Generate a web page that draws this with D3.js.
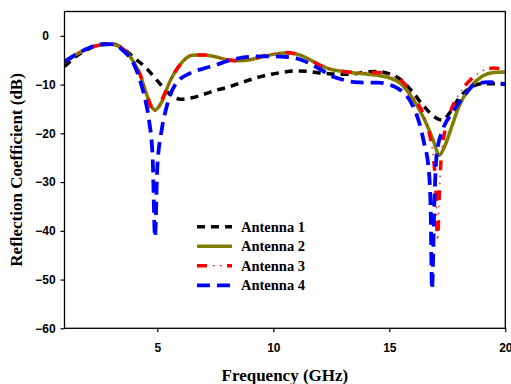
<!DOCTYPE html>
<html><head><meta charset="utf-8">
<script src="https://cdn.jsdelivr.net/npm/d3@7"></script>
<style>body{margin:0;background:#fff}svg{display:block}</style>
</head><body><svg id="c" width="511" height="384"></svg>
<script>
const xTicks = [5, 10, 15, 20];
const yTicks = [0, -10, -20, -30, -40, -50, -60];
const seriesNames = ["Antenna 1", "Antenna 2", "Antenna 3", "Antenna 4"];

const freq1 = [1,1.5,2,2.5,3,3.5,4,4.5,5,5.5,6,6.5,7,7.5,8,8.5,9,9.5,10,10.5,11,11.5,12,12.5,13,13.5,14,14.5,15,15.5,16,16.5,17,17.3,17.6,18,18.5,19,19.5,20];
const ant1  = [-6.3,-4.2,-2.8,-1.8,-1.6,-2.5,-4.5,-6.5,-9.2,-11.8,-13.0,-12.7,-12.0,-11.2,-10.6,-9.8,-9.0,-8.3,-7.8,-7.4,-7.2,-7.3,-7.6,-7.8,-7.9,-7.8,-7.4,-7.3,-7.8,-9.0,-11.5,-14.5,-16.8,-17.3,-15.8,-12.8,-10.6,-9.8,-9.8,-10.0];

const freq2 = [1,1.5,2,2.5,3,3.5,4,4.3,4.6,4.9,5.2,5.5,6,6.5,7,7.5,8,8.5,9,9.5,10,10.5,11,11.5,12,12.5,13,13.5,14,14.5,15,15.5,16,16.5,16.9,17.15,17.4,17.7,18,18.5,19,19.5,20];
const ant2  = [-5.4,-3.8,-2.6,-1.9,-1.7,-2.6,-5.5,-8.5,-12.8,-15.2,-13.5,-9.8,-5.8,-4.0,-3.9,-4.3,-4.9,-5.1,-4.9,-4.3,-3.8,-3.5,-3.7,-4.7,-6.0,-6.9,-7.3,-7.6,-7.8,-8.1,-8.6,-9.8,-12.8,-17.0,-21.5,-24.5,-22.5,-18.5,-14.5,-10.5,-8.3,-7.5,-7.4];

const freq3 = [1,1.5,2,2.5,3,3.5,4,4.3,4.6,4.85,5.15,5.5,6,6.5,7,7.5,8,8.5,9,9.5,10,10.5,11,11.5,12,12.5,13,13.5,14,14.5,15,15.5,16,16.5,16.75,16.9,17.0,17.08,17.16,17.25,17.4,17.6,18,18.5,19,19.5,20];
const ant3  = [-5.4,-3.8,-2.6,-1.9,-1.7,-2.6,-5.4,-8.4,-12.9,-15.6,-13.6,-9.8,-5.8,-4.0,-3.9,-4.3,-4.9,-5.1,-4.9,-4.2,-3.6,-3.4,-3.7,-4.7,-6.0,-6.9,-7.3,-7.5,-7.5,-7.5,-8.0,-9.0,-12.3,-16.5,-20.5,-25.0,-31.0,-42.0,-32.0,-24.0,-19.5,-16.0,-12.0,-9.0,-7.2,-6.6,-7.0];

const freq4 = [1,1.5,2,2.5,3,3.5,4,4.3,4.5,4.65,4.8,4.9,5.0,5.2,5.4,5.8,6.4,7,7.5,8,8.5,9,9.5,10,10.5,11,11.5,12,12.5,13,13.5,14,14.5,15,15.5,16,16.3,16.5,16.7,16.78,16.84,16.95,17.05,17.3,17.7,18.2,18.75,19.3,20];
const ant4  = [-5.3,-3.8,-2.6,-1.8,-1.7,-2.9,-5.9,-9.8,-13.5,-17.5,-25.0,-41.3,-27.0,-19.0,-14.6,-9.8,-7.7,-6.7,-6.0,-5.2,-4.6,-4.3,-4.2,-4.2,-4.3,-4.6,-5.5,-6.8,-8.2,-9.0,-9.5,-9.6,-9.6,-10.0,-11.2,-14.2,-18.0,-22.0,-27.5,-35.0,-52.0,-33.0,-24.0,-19.3,-15.9,-12.5,-9.8,-9.5,-9.9];

const svg = d3.select("#c");
const L = 64.5, R = 505.3, T = 11.5, B = 328.3;
const x = d3.scaleLinear().domain([1, 20]).range([L, R]);
const y = d3.scaleLinear().domain([-60, 5]).range([B, T]);

const tickFont = "'Liberation Sans', Arial, sans-serif";
const serif = "'Liberation Serif', 'Times New Roman', serif";

// axes
const gx = svg.append("g").attr("transform", `translate(0,${B})`)
  .call(d3.axisBottom(x).tickValues(xTicks).tickSize(4).tickPadding(11.5).tickFormat(d3.format("d")));
const gy = svg.append("g").attr("transform", `translate(${L},0)`)
  .call(d3.axisLeft(y).tickValues(yTicks).tickSize(4).tickFormat(d3.format("d")));
[gx, gy].forEach(g => {
  g.select(".domain").remove();
  g.selectAll(".tick line").attr("stroke", "#000").attr("stroke-width", 1.2);
  g.selectAll("text").attr("font-family", tickFont).attr("font-weight", "bold")
    .attr("font-size", 12).attr("fill", "#000");
});
gy.selectAll("text").attr("text-anchor", "middle").attr("x", -19);

const series = [
  {f: freq1, v: ant1, color: "#000000", dash: "8,6", w: 3.5},
  {f: freq2, v: ant2, color: "#808000", dash: null, w: 3.5},
  {f: freq3, v: ant3, color: "#ff0000", dash: "10,20", w: 3.5, dots: true},
  {f: freq4, v: ant4, color: "#0000ff", dash: "13,7", w: 3.8}
];

const clip = svg.append("clipPath").attr("id", "clp").append("rect")
  .attr("x", L).attr("y", T).attr("width", R - L).attr("height", B - T);

const line = d3.line().curve(d3.curveMonotoneX).x(d => x(d[0])).y(d => y(d[1]));
const plot = svg.append("g").attr("clip-path", "url(#clp)");
series.forEach(s => {
  const pts = s.f.map((f, i) => [f, s.v[i]]);
  plot.append("path").attr("d", line(pts)).attr("fill", "none")
    .attr("stroke", s.color).attr("stroke-width", s.w)
    .attr("stroke-dasharray", s.dash).attr("stroke-linejoin", "round");
  if (s.dots) {
    plot.append("path").attr("d", line(pts)).attr("fill", "none")
      .attr("stroke", s.color).attr("stroke-width", 1.3)
      .attr("stroke-dasharray", "0,16,1.5,5.5,1.5,5.5");
  }
});

// frame
svg.append("rect").attr("x", L).attr("y", T).attr("width", R - L).attr("height", B - T)
  .attr("fill", "none").attr("stroke", "#000").attr("stroke-width", 1.3);

// legend
const legY = [226.7, 246.2, 265.7, 285.3];
const lg = svg.append("g");
series.forEach((s, i) => {
  lg.append("line").attr("x1", 197).attr("x2", 232).attr("y1", legY[i]).attr("y2", legY[i])
    .attr("stroke", s.color).attr("stroke-width", s.w).attr("stroke-dasharray", s.dash);
  if (s.dots) {
    lg.append("line").attr("x1", 197).attr("x2", 232).attr("y1", legY[i]).attr("y2", legY[i])
      .attr("stroke", s.color).attr("stroke-width", 1.3).attr("stroke-dasharray", "0,16,1.5,5.5,1.5,5.5");
  }
  lg.append("text").attr("x", 241).attr("y", legY[i] + 4.8).text(seriesNames[i])
    .attr("font-family", serif).attr("font-weight", "bold").attr("font-size", 14.5).attr("fill", "#000");
});

// titles
svg.append("text").attr("x", (L + R) / 2).attr("y", 381).attr("text-anchor", "middle")
  .attr("font-family", serif).attr("font-weight", "bold").attr("font-size", 17).text("Frequency (GHz)");
svg.append("text").attr("transform", `translate(22,${(T + B) / 2}) rotate(-90)`).attr("text-anchor", "middle")
  .attr("font-family", serif).attr("font-weight", "bold").attr("font-size", 17).text("Reflection Coefficient (dB)");
</script></body></html>
